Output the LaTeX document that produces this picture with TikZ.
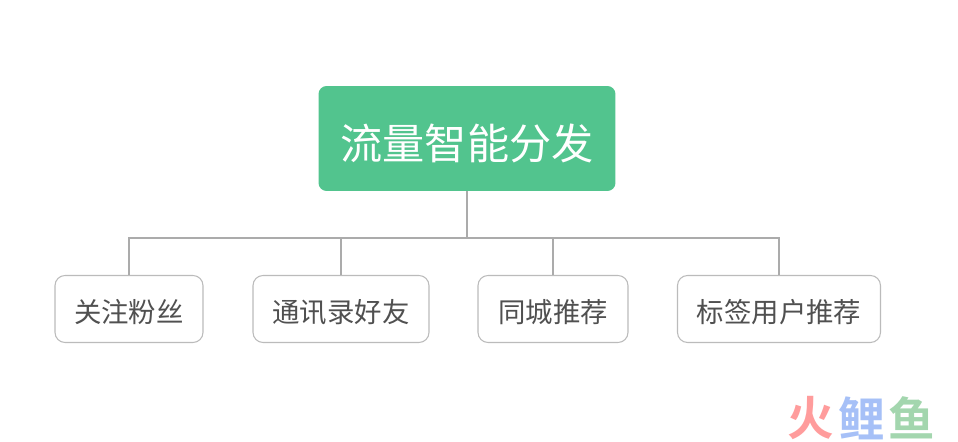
\documentclass[tikz,border=0pt]{standalone}
\usepackage{fontspec}
\newfontfamily\cjk{Noto Sans CJK SC}
\newfontfamily\cjkbold{Noto Sans CJK SC Bold}
\definecolor{rootgreen}{HTML}{52C48E}
\definecolor{linegray}{HTML}{ABABAB}
\definecolor{boxgray}{HTML}{BBBBBB}
\definecolor{textgray}{HTML}{505050}
\definecolor{markred}{HTML}{FF9C9C}
\definecolor{markblue}{HTML}{A6C0F7}
\definecolor{markgreen}{HTML}{A3D6AE}

\begin{document}
\begin{tikzpicture}[x=0.02cm,y=-0.02cm]
\tikzstyle{every node}+=[inner sep=0pt]
\tikzstyle{rootbox}=[fill=rootgreen,rounded corners=0.16cm,minimum height=2.1cm,minimum width=5.94cm,text height=25pt,text depth=1pt,text=white,font=\cjk\fontsize{24}{28}\selectfont]
\tikzstyle{leafbox}=[draw=boxgray,line width=0.6pt,fill=white,rounded corners=0.2cm,minimum height=1.34cm,text height=16pt,text depth=1pt,text=textgray,font=\cjk\fontsize{15.6}{19}\selectfont]
\tikzstyle{branch}=[draw=linegray,line width=0.85pt]
\tikzstyle{logomark}=[font=\cjkbold\fontsize{26.5}{30}\selectfont]
\useasboundingbox (0,0) rectangle (958,442);
\node [rootbox] (root) at (467,138.5) {流量智能分发};
\coordinate (bus) at (467,238);
\node [leafbox,minimum width=2.96cm] (fans) at (129,309) {关注粉丝};
\node [leafbox,minimum width=3.52cm] (friends) at (341,309) {通讯录好友};
\node [leafbox,minimum width=3.0cm] (city) at (553,309) {同城推荐};
\node [leafbox,minimum width=4.06cm] (tags) at (779,309) {标签用户推荐};
\draw [branch,line width=1.6pt] (root.south) -- (bus);
\draw [branch,line width=1.2pt] (bus) -| (fans.north);
\draw [branch] (bus) -| (friends.north);
\draw [branch] (bus) -| (city.north);
\draw [branch] (bus) -| (tags.north);
\node [logomark,text=markred] (huo) at (811,418) {火};
\node [logomark,text=markblue] (li) at (862,418) {鲤};
\node [logomark,text=markgreen] (yu) at (912,418) {鱼};
\end{tikzpicture}
\end{document}
